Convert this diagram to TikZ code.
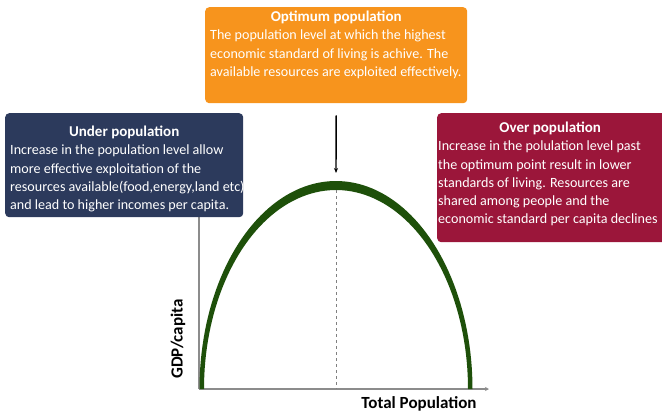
\documentclass[tikz,border=0pt]{standalone}
\usepackage{fontspec}
\setmainfont{Carlito}
\usetikzlibrary{arrows.meta,positioning}
\definecolor{optorange}{HTML}{F7941D}
\definecolor{undernavy}{HTML}{2C3A5C}
\definecolor{overred}{HTML}{9B163A}
\definecolor{curvegreen}{HTML}{1E500A}
\begin{document}
\begin{tikzpicture}[x=1pt,y=-1pt,
  box/.style={rounded corners=4pt,anchor=north west,inner sep=0pt},
  head/.style={font=\fontsize{15}{18}\selectfont\bfseries,text=white,inner sep=0pt},
  body/.style={font=\fontsize{14.1}{18.2}\selectfont,text=white,align=left,anchor=north west,inner sep=0pt},
  axis/.style={draw=gray!90,line width=1.1pt},
  lab/.style={font=\fontsize{17}{18}\selectfont\bfseries}]
\useasboundingbox (0,0) rectangle (662,416);
% axes
\coordinate (O) at (199,389);
\coordinate (ytop) at (199,200);
\coordinate (xend) at (489,389);
\draw[axis] (ytop) -- (O);
\draw[axis,-{Stealth[length=4pt,width=4pt]}] (O) -- (xend);
% curve
\fill[curvegreen] plot[domain=180:360,samples=90] ({336+136.5*cos(\x)},{389+208*sin(\x)})
  -- plot[domain=360:180,samples=90] ({336+132*cos(\x)},{389+199*sin(\x)}) -- cycle;
\coordinate (peak) at (336,190);
\coordinate (mid) at (336,389);
\draw[gray,dashed,line width=0.8pt] (peak) -- (mid);
\node[lab,rotate=90] (ylab) at (178,339) {GDP/capita};
\node[lab] (xlab) at (419,404) {Total Population};
% boxes
\node[box,fill=optorange,minimum width=262pt,minimum height=96pt] (opt) at (205,7) {};
\node[head] (optH) at ([yshift=-10pt]opt.north) {Optimum population};
\node[body] (optB) at ([xshift=5pt,yshift=-23pt]opt.north west) {The population level at which the highest\\
  economic standard of living is achive. The\\ available resources are exploited effectively.};
\node[box,fill=undernavy,minimum width=238pt,minimum height=104pt] (under) at (5,113) {};
\node[head] (underH) at ([yshift=-19pt]under.north) {Under population};
\node[body] (underB) at ([xshift=5pt,yshift=-32pt]under.north west) {Increase in the population level allow\\
  more effective exploitation of the\\ resources available(food,energy,land etc)\\ and lead to higher incomes per capita.};
\node[box,fill=overred,minimum width=232pt,minimum height=129pt] (over) at (437,113) {};
\node[head] (overH) at ([xshift=-3pt,yshift=-15pt]over.north) {Over population};
\node[body] (overB) at ([xshift=1pt,yshift=-28pt]over.north west) {Increase in the polulation level past\\
  the optimum point result in lower\\ standards of living. Resources are\\ shared among people and the\\
  economic standard per capita declines};
% arrow
\coordinate (arrbot) at (336,173);
\draw[-{Stealth[length=5pt,width=4pt]},line width=1.4pt] ([yshift=-12pt]opt.south) -- (arrbot);
\end{tikzpicture}
\end{document}
